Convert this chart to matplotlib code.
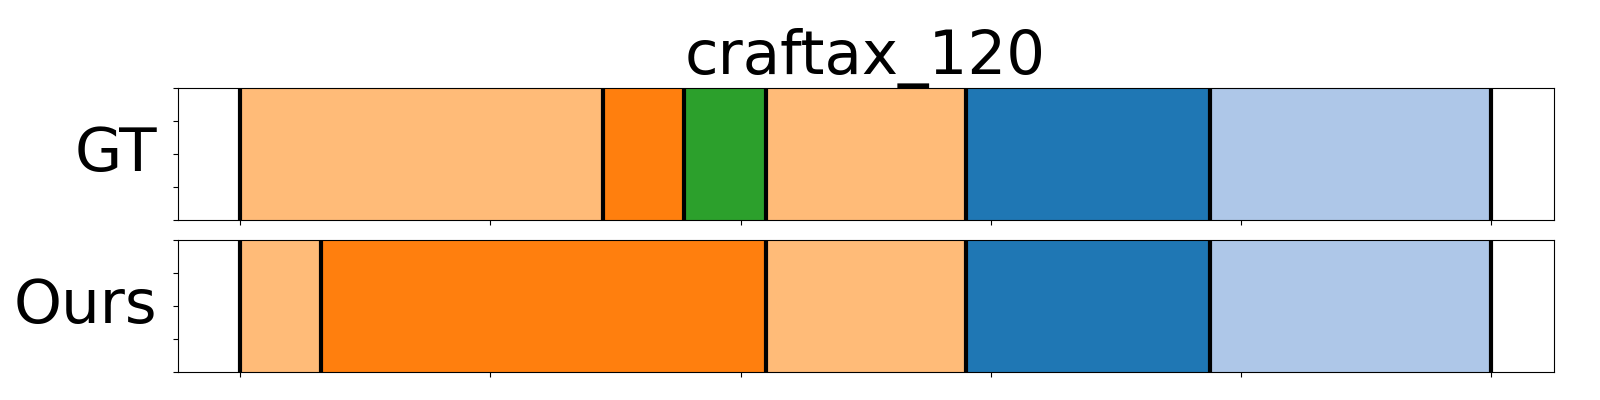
import matplotlib
matplotlib.use("Agg")
import matplotlib.pyplot as plt

title = "craftax_120"
rows = ["GT", "Ours"]
gt_bounds = [0, 29, 35.5, 42, 58, 77.5, 100]
gt_colors = ["#ffbb78", "#ff7f0e", "#2ca02c", "#ffbb78", "#1f77b4", "#aec7e8"]
ours_bounds = [0, 6.5, 42, 58, 77.5, 100]
ours_colors = ["#ffbb78", "#ff7f0e", "#ffbb78", "#1f77b4", "#aec7e8"]

fig = plt.figure(figsize=(16, 4), dpi=100)
ax1 = fig.add_axes([0.111, 0.45, 0.86, 0.33])
ax2 = fig.add_axes([0.111, 0.07, 0.86, 0.33])

for ax, name, b, c in [(ax1, rows[0], gt_bounds, gt_colors), (ax2, rows[1], ours_bounds, ours_colors)]:
    for i, col in enumerate(c):
        ax.barh(0.5, b[i+1]-b[i], left=b[i], height=1, color=col)
    for x in b:
        ax.axvline(x, color="black", lw=3)
    ax.set_xlim(-5, 105)
    ax.set_ylim(0, 1)
    ax.set_xticks([0, 20, 40, 60, 80, 100])
    ax.set_yticks([0, 0.25, 0.5, 0.75, 1])
    ax.set_xticklabels([])
    ax.set_yticklabels([])
    ax.set_ylabel(name, rotation=0, fontsize=44, ha="right", va="center")
    ax.yaxis.set_label_coords(-0.015, 0.5)

ax1.set_title(title, fontsize=44)
fig.savefig("out.png")
